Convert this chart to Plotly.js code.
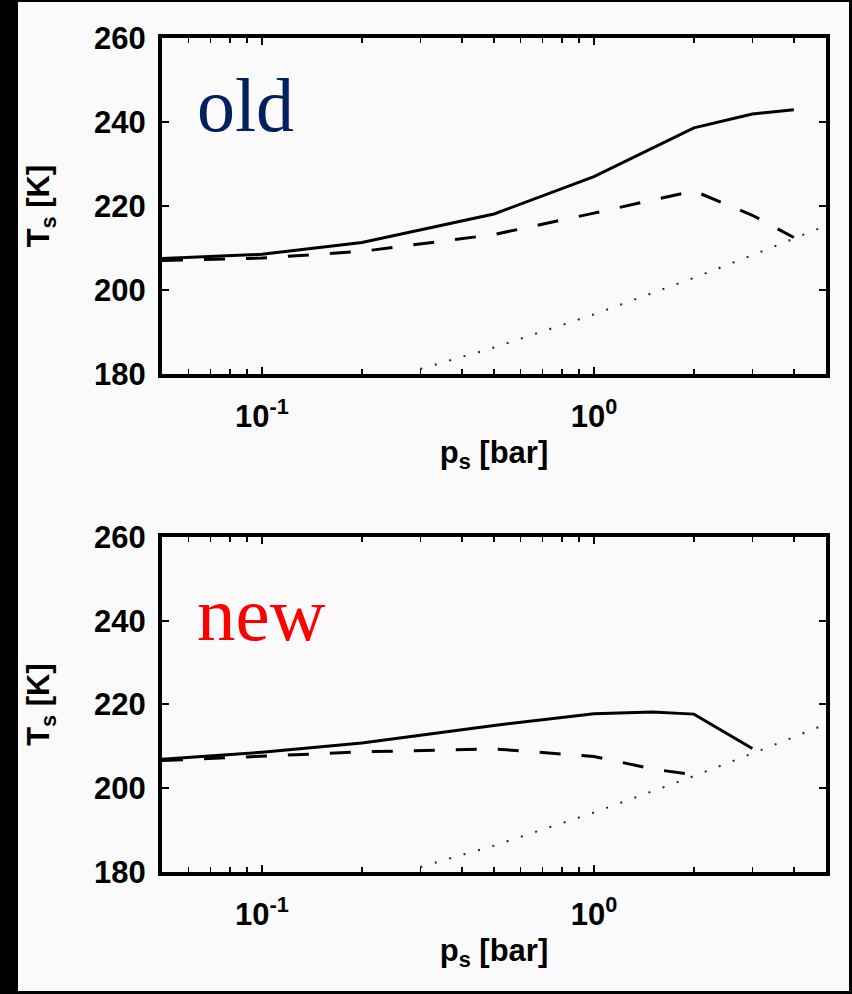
<!DOCTYPE html>
<html><head><meta charset="utf-8">
<script src="https://cdn.plot.ly/plotly-3.0.1.min.js"></script>
<style>
html,body{margin:0;padding:0;background:#000;width:852px;height:994px;overflow:hidden}
#chart{position:absolute;left:18px;top:2px;width:831px;height:989px;background:#fafafa}
</style></head><body><div id="chart"></div>
<script>
// ---- data ----
const pOldSolid  = [0.05, 0.1, 0.2, 0.5, 1, 2, 3, 4];
const tOldSolid  = [207.5, 208.5, 211.3, 218.1, 227.0, 238.6, 241.9, 242.9];
const pOldDashed = [0.05, 0.1, 0.2, 0.5, 1, 2, 3, 4];
const tOldDashed = [207.0, 207.6, 209.2, 213.2, 218.3, 223.6, 217.8, 212.5];
const pNewSolid  = [0.05, 0.1, 0.2, 0.5, 1, 1.5, 2, 3];
const tNewSolid  = [206.9, 208.6, 210.8, 215.0, 217.8, 218.2, 217.7, 209.5];
const pNewDashed = [0.05, 0.1, 0.2, 0.5, 1, 1.5, 2];
const tNewDashed = [206.6, 207.7, 208.7, 209.4, 207.6, 204.6, 203.2];
const pDotted    = [0.3, 0.5, 1, 2, 3, 5];
const tDotted    = [181.2, 186.3, 194.2, 202.9, 208.3, 215.3];
const xMajorVals = [0.1, 1];
const xMajorText = ['10<sup>-1</sup>', '10<sup>0</sup>'];
const xMinorVals = [0.05, 0.06, 0.07, 0.08, 0.09, 0.2, 0.3, 0.4, 0.5, 0.6, 0.7, 0.8, 0.9, 2, 3, 4, 5];
const xLimits    = [0.05, 5];
const yTickVals  = [180, 200, 220, 240, 260];
const yLimits    = [180, 260];
const panelLabels = ['old', 'new'];
const panelColors = ['#002060', '#ff0000'];
const xTitle = 'p<sub>s</sub> [bar]';
const yTitle = 'T<sub>s</sub> [K]';

// ---- styling ----
const axFont = {family: 'Liberation Sans, Arial, sans-serif', size: 31, color: '#000', weight: 'bold'};
const solid  = {color: '#000', width: 3, dash: 'solid'};
const dashed = {color: '#000', width: 3, dash: '21px,21px'};
const dotted = {color: '#222', width: 2, dash: '2px,13px'};

function tr(x, y, line, xa, ya) {
  return {x: x, y: y, type: 'scatter', mode: 'lines', line: line, xaxis: xa, yaxis: ya,
          showlegend: false, hoverinfo: 'skip'};
}
const data = [
  tr(pDotted, tDotted, dotted, 'x', 'y'),
  tr(pOldDashed, tOldDashed, dashed, 'x', 'y'),
  tr(pOldSolid, tOldSolid, solid, 'x', 'y'),
  tr(pDotted, tDotted, dotted, 'x2', 'y2'),
  tr(pNewDashed, tNewDashed, dashed, 'x2', 'y2'),
  tr(pNewSolid, tNewSolid, solid, 'x2', 'y2')
];

function xax(anchor) {
  return {
    type: 'log', anchor: anchor, range: xLimits.map(Math.log10),
    tickmode: 'array', tickvals: xMajorVals, ticktext: xMajorText,
    ticks: 'inside', ticklen: 7, tickwidth: 2, tickcolor: '#000',
    showline: true, linewidth: 4, linecolor: '#000', mirror: 'allticks',
    showgrid: false, zeroline: false, tickfont: axFont, ticklabelstandoff: 12,
    minor: {tickmode: 'array', tickvals: xMinorVals, ticks: 'inside', ticklen: 5,
            tickwidth: 1.5, tickcolor: '#000', showgrid: false},
    title: {text: xTitle, font: axFont, standoff: 9}
  };
}
function yax(anchor, domain) {
  return {
    anchor: anchor, domain: domain, range: yLimits,
    tickmode: 'array', tickvals: yTickVals,
    ticks: 'inside', ticklen: 7, tickwidth: 2, tickcolor: '#000',
    showline: true, linewidth: 4, linecolor: '#000', mirror: 'allticks',
    showgrid: false, zeroline: false, tickfont: axFont, ticklabelstandoff: 6,
    title: {text: yTitle, font: axFont, standoff: 36}
  };
}

const layout = {
  width: 831, height: 989,
  margin: {l: 144, r: 23, t: 36, b: 119},
  paper_bgcolor: '#fafafa', plot_bgcolor: '#fafafa',
  showlegend: false,
  xaxis: xax('y'), yaxis: yax('x', [0.5971, 1]),
  xaxis2: xax('y2'), yaxis2: yax('x2', [0, 0.4017]),
  annotations: [
    {text: panelLabels[0], xref: 'paper', yref: 'paper', x: 0.05, y: 0.92,
     xanchor: 'left', yanchor: 'middle', showarrow: false,
     font: {family: 'Liberation Serif, serif', size: 76, color: panelColors[0]}},
    {text: panelLabels[1], xref: 'paper', yref: 'paper', x: 0.05, y: 0.309,
     xanchor: 'left', yanchor: 'middle', showarrow: false,
     font: {family: 'Liberation Serif, serif', size: 77, color: panelColors[1]}}
  ]
};

Plotly.newPlot('chart', data, layout, {staticPlot: true, displayModeBar: false});
</script></body></html>
